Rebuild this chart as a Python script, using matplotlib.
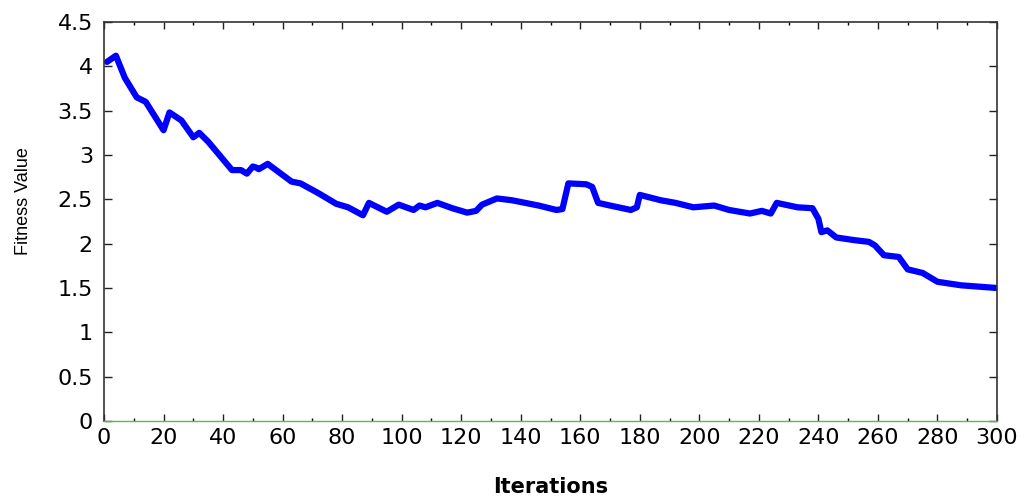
import matplotlib
matplotlib.use("Agg")
import matplotlib.pyplot as plt
from matplotlib.ticker import MultipleLocator

iterations = [1, 4, 7, 11, 14, 20, 22, 26, 30, 32, 35, 43, 46, 48, 50, 51, 52, 55,
              63, 66, 72, 78, 82, 87, 89, 95, 99, 104, 106, 108, 112, 117, 122, 125,
              127, 132, 137, 146, 152, 154, 156, 162, 164, 166, 170, 177, 179, 180,
              187, 192, 198, 205, 210, 217, 221, 224, 226, 233, 238, 240, 241, 243,
              246, 252, 257, 259, 262, 267, 270, 275, 280, 288, 300]
fitness = [4.05, 4.12, 3.87, 3.65, 3.60, 3.28, 3.48, 3.39, 3.20, 3.25, 3.15, 2.83,
           2.83, 2.79, 2.87, 2.86, 2.84, 2.90, 2.70, 2.68, 2.57, 2.45, 2.41, 2.32,
           2.46, 2.36, 2.44, 2.38, 2.43, 2.41, 2.46, 2.40, 2.35, 2.37, 2.44, 2.51,
           2.49, 2.43, 2.38, 2.39, 2.68, 2.67, 2.64, 2.46, 2.43, 2.38, 2.41, 2.55,
           2.49, 2.46, 2.41, 2.43, 2.38, 2.34, 2.37, 2.34, 2.46, 2.41, 2.40, 2.28,
           2.13, 2.15, 2.07, 2.04, 2.02, 1.98, 1.87, 1.85, 1.71, 1.67, 1.57, 1.53,
           1.50]
y_ticks = [0, 0.5, 1, 1.5, 2, 2.5, 3, 3.5, 4, 4.5]
y_tick_labels = ["0", "0.5", "1", "1.5", "2", "2.5", "3", "3.5", "4", "4.5"]

fig = plt.figure(figsize=(10.25, 4.99), dpi=100)
ax = fig.add_axes([104/1025, 1-421/499, (997-104)/1025, (421-22)/499])

ax.plot(iterations, fitness, color="#0000ff", linewidth=4.5,
        solid_joinstyle="round", solid_capstyle="round")

ax.set_xlim(0, 300)
ax.set_ylim(0, 4.5)
ax.xaxis.set_major_locator(MultipleLocator(20))
ax.xaxis.set_minor_locator(MultipleLocator(10))
ax.set_yticks(y_ticks)
ax.set_yticklabels(y_tick_labels)

ax.tick_params(axis="x", which="major", direction="in", length=5, width=1,
               top=True, bottom=True, labelsize=16, pad=5, colors="#222222")
ax.tick_params(axis="x", which="minor", direction="in", length=2.5, width=1,
               top=True, bottom=True)
ax.tick_params(axis="y", which="major", direction="in", length=6, width=1,
               left=True, right=True, labelsize=16, pad=8, colors="#222222")
for lab in ax.get_xticklabels() + ax.get_yticklabels():
    lab.set_color("black")
    lab.set_fontfamily("DejaVu Sans")

for side in ["left", "top", "right"]:
    ax.spines[side].set_color("#333333")
    ax.spines[side].set_linewidth(1.2)
ax.spines["bottom"].set_color("#6ab05c")
ax.spines["bottom"].set_linewidth(1.0)

fig.text(24/1025, 1-201/499, "Fitness Value", rotation=90, ha="center",
         va="center", fontsize=13, family="Liberation Sans")
fig.text(551/1025, 2/499, "Iterations", ha="center", va="bottom",
         fontsize=15, fontweight="bold", family="DejaVu Sans")

fig.savefig("out.png", dpi=100, facecolor="white")
